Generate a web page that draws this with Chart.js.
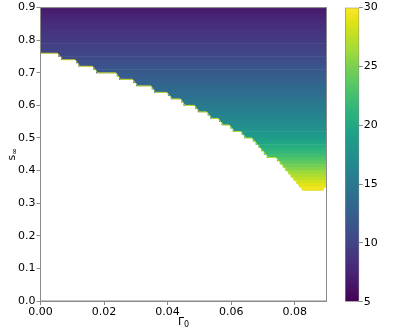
<!DOCTYPE html>
<html><head><meta charset="utf-8">
<script src="https://cdn.jsdelivr.net/npm/chart.js@4"></script>
<style>
html,body{margin:0;padding:0;background:#fff;}
#wrap{position:relative;width:407px;height:336px;overflow:hidden;}
#main{position:absolute;left:0;top:0;}
#cb{position:absolute;left:330px;top:0;}
</style>
</head><body>
<div id="wrap"><canvas id="main" width="407" height="336"></canvas><canvas id="cb" width="77" height="336"></canvas></div>
<script>
// ---- data ----
const gammaTicks = [0, 0.02, 0.04, 0.06, 0.08];
const sTicks = [0, 0.1, 0.2, 0.3, 0.4, 0.5, 0.6, 0.7, 0.8, 0.9];
const cbTicks = [5, 10, 15, 20, 25, 30];
const cbMin = 5, cbMax = 30;

// rows of s (band centres), top to bottom
const rowS = [0.895,0.885,0.875,0.865,0.855,0.845,0.835,0.825,0.815,0.805,
  0.795,0.785,0.775,0.765,0.755,0.745,0.735,0.725,0.715,0.705,
  0.695,0.685,0.675,0.665,0.655,0.645,0.635,0.625,0.615,0.605,
  0.595,0.585,0.575,0.565,0.555,0.545,0.535,0.525,0.515,0.505,
  0.495,0.485,0.475,0.465,0.455,0.445,0.435,0.425,0.415,0.405,
  0.395,0.385,0.375,0.365,0.355,0.345];
// colour value of each row
const rowValue = [6.8,7.1,7.4,7.7,8.0,8.3,8.5,8.8,9.0,9.2,
  9.4,9.6,9.8,10.0,10.3,10.6,10.9,11.2,11.5,11.8,
  12.1,12.4,12.7,13.0,13.4,13.7,14.0,14.3,14.7,15.0,
  15.3,15.6,15.9,16.2,16.5,16.9,17.3,17.7,18.2,18.7,
  19.3,19.8,20.4,21.0,21.7,22.4,23.1,23.8,24.6,25.3,
  26.1,26.8,27.5,28.2,28.9,29.6];
// left edge (Γ0) of the filled region in each row
const rowGammaMin = [0,0,0,0,0,0,0,0,0,0,
  0,0,0,0,0.0057,0.0066,0.0113,0.0120,0.0167,0.0176,
  0.0241,0.0248,0.0293,0.0302,0.0351,0.0358,0.0402,0.0411,0.0444,0.0451,
  0.0488,0.0496,0.0527,0.0535,0.0563,0.0571,0.0598,0.0606,0.0634,0.0642,
  0.0669,0.0678,0.0687,0.0695,0.0704,0.0713,0.0745,0.0754,0.0763,0.0771,
  0.0780,0.0788,0.0797,0.0806,0.0814,0.0823];
// right edge (Γ0) of the filled region in each row
const rowGammaMax = [0.09,0.09,0.09,0.09,0.09,0.09,0.09,0.09,0.09,0.09,
  0.09,0.09,0.09,0.09,0.09,0.09,0.09,0.09,0.09,0.09,
  0.09,0.09,0.09,0.09,0.09,0.09,0.09,0.09,0.09,0.09,
  0.09,0.09,0.09,0.09,0.09,0.09,0.09,0.09,0.09,0.09,
  0.09,0.09,0.09,0.09,0.09,0.09,0.09,0.09,0.09,0.09,
  0.09,0.09,0.09,0.09,0.09,0.089];
// lower boundary of the region (thin yellow edge)
const boundaryGamma = [0,0.0053,0.0070,0.0109,0.0124,0.0163,0.0180,0.0237,0.0252,0.0289,
  0.0306,0.0347,0.0362,0.0397,0.0415,0.0440,0.0455,0.0484,0.0500,0.0523,
  0.0539,0.0559,0.0575,0.0594,0.0610,0.0630,0.0646,0.0665,0.0717,0.0741,
  0.0827,0.0885,0.0900];
const boundaryS = [0.76,0.76,0.74,0.74,0.72,0.72,0.70,0.70,0.68,0.68,
  0.66,0.66,0.64,0.64,0.62,0.62,0.60,0.60,0.58,0.58,
  0.56,0.56,0.54,0.54,0.52,0.52,0.50,0.50,0.44,0.44,
  0.34,0.34,0.355];

// ---- viridis colormap ----
const VIRIDIS = [
  [0.00,'#440154'],[0.05,'#471365'],[0.10,'#482475'],[0.15,'#46337f'],[0.20,'#414487'],
  [0.25,'#3b528b'],[0.30,'#355f8d'],[0.35,'#2f6c8e'],[0.40,'#2a788e'],[0.45,'#25848e'],
  [0.50,'#21918c'],[0.55,'#1e9b8a'],[0.60,'#22a884'],[0.65,'#2fb47c'],[0.70,'#44bf70'],
  [0.75,'#5ec962'],[0.80,'#7ad151'],[0.85,'#9fda3a'],[0.90,'#bddf26'],[0.95,'#dfe318'],[1.00,'#fde725']
];
function hex2rgb(h){return [parseInt(h.slice(1,3),16),parseInt(h.slice(3,5),16),parseInt(h.slice(5,7),16)];}
function colorFor(v){
  let t = (v - cbMin) / (cbMax - cbMin);
  t = Math.max(0, Math.min(1, t));
  for (let i = 1; i < VIRIDIS.length; i++) {
    if (t <= VIRIDIS[i][0]) {
      const [t0,c0] = VIRIDIS[i-1], [t1,c1] = VIRIDIS[i];
      const f = (t - t0) / (t1 - t0);
      const a = hex2rgb(c0), b = hex2rgb(c1);
      return 'rgb(' + a.map((x,k)=>Math.round(x + (b[k]-x)*f)).join(',') + ')';
    }
  }
  return VIRIDIS[VIRIDIS.length-1][1];
}

const FONT = 'DejaVu Sans';
const AXIS_GREY = '#8a8a8a';

const framePlugin = {
  id: 'frame',
  afterDraw(chart){
    const {ctx, chartArea:a} = chart;
    ctx.save();
    ctx.strokeStyle = AXIS_GREY; ctx.lineWidth = 1;
    ctx.strokeRect(a.left, a.top, a.right - a.left, a.bottom - a.top);
    ctx.restore();
  }
};

function drawSub(ctx, main, sub, size){
  ctx.font = size + 'px "' + FONT + '"';
  const w1 = ctx.measureText(main).width;
  ctx.font = Math.round(size*0.7) + 'px "' + FONT + '"';
  const w2 = ctx.measureText(sub).width;
  const total = w1 + w2;
  ctx.font = size + 'px "' + FONT + '"';
  ctx.fillText(main, -total/2, 0);
  ctx.font = Math.round(size*0.7) + 'px "' + FONT + '"';
  ctx.fillText(sub, -total/2 + w1, size*0.28);
}

const titlesPlugin = {
  id: 'axisTitles',
  afterDraw(chart){
    const {ctx, chartArea:a} = chart;
    ctx.save();
    ctx.fillStyle = '#000';
    ctx.textAlign = 'left';
    ctx.textBaseline = 'middle';
    ctx.save();
    ctx.translate((a.left + a.right)/2, a.bottom + 21);
    drawSub(ctx, 'Γ', '0', 11);
    ctx.restore();
    ctx.save();
    ctx.translate(12, (a.top + a.bottom)/2);
    ctx.rotate(-Math.PI/2);
    drawSub(ctx, 's', '∞', 11);
    ctx.restore();
    ctx.restore();
  }
};

const tickFont = {family: FONT, size: 11};

new Chart(document.getElementById('main'), {
  type: 'bar',
  data: {
    datasets: [
      {
        type: 'bar',
        indexAxis: 'y',
        data: rowS.map((s, i) => ({y: s, x: [rowGammaMin[i], rowGammaMax[i]]})),
        backgroundColor: rowValue.map(colorFor),
        borderWidth: 0,
        barPercentage: 1,
        categoryPercentage: 1,
        order: 2
      },
      {
        type: 'scatter',
        indexAxis: 'x',
        data: boundaryGamma.map((g, i) => ({x: g, y: boundaryS[i]})),
        showLine: true,
        borderColor: '#d6e21b',
        borderWidth: 0.9,
        pointRadius: 0,
        tension: 0,
        order: 1
      }
    ]
  },
  options: {
    indexAxis: 'y',
    responsive: false,
    animation: false,
    devicePixelRatio: 1,
    layout: {padding: {left: 0, top: 6, right: 80.5, bottom: 0}},
    plugins: {legend: {display: false}, tooltip: {enabled: false}},
    scales: {
      x: {
        type: 'linear', min: 0, max: 0.09, offset: false,
        afterBuildTicks(s){ s.ticks = gammaTicks.map(v => ({value: v})); },
        afterFit(s){ s.height = 35; },
        ticks: {font: tickFont, color: '#000', padding: 1, maxRotation: 0, autoSkip: false,
          callback: v => Number(v).toFixed(2)},
        grid: {display: true, drawOnChartArea: false, drawTicks: true, tickLength: 4, color: AXIS_GREY, offset: false},
        border: {display: true, color: AXIS_GREY}
      },
      y: {
        type: 'linear', min: 0, max: 0.9, offset: false,
        afterBuildTicks(s){ s.ticks = sTicks.map(v => ({value: v})); },
        afterFit(s){ s.width = 40.5; },
        ticks: {font: tickFont, color: '#000', padding: 1, autoSkip: false,
          callback: v => Number(v).toFixed(1)},
        grid: {display: true, drawOnChartArea: false, drawTicks: true, tickLength: 4, color: AXIS_GREY, offset: false},
        border: {display: true, color: AXIS_GREY}
      }
    }
  },
  plugins: [framePlugin, titlesPlugin]
});

new Chart(document.getElementById('cb'), {
  type: 'bar',
  data: {
    labels: [''],
    datasets: [{
      data: [[cbMin, cbMax]],
      backgroundColor: (c) => {
        const ch = c.chart;
        if (!ch.chartArea) return '#888';
        const ys = ch.scales.y;
        const g = ch.ctx.createLinearGradient(0, ys.getPixelForValue(cbMin), 0, ys.getPixelForValue(cbMax));
        VIRIDIS.forEach(([t, col]) => g.addColorStop(t, col));
        return g;
      },
      borderColor: AXIS_GREY,
      borderWidth: 1,
      borderSkipped: false,
      barPercentage: 1,
      categoryPercentage: 1
    }]
  },
  options: {
    responsive: false,
    animation: false,
    devicePixelRatio: 1,
    layout: {padding: {left: 15, top: 6, right: 0, bottom: 34.3}},
    plugins: {legend: {display: false}, tooltip: {enabled: false}},
    scales: {
      x: {display: false},
      y: {
        position: 'right', min: cbMin, max: cbMax,
        afterBuildTicks(s){ s.ticks = cbTicks.map(v => ({value: v})); },
        afterFit(s){ s.width = 47.7; },
        ticks: {font: tickFont, color: '#000', padding: 1, autoSkip: false},
        grid: {display: true, drawOnChartArea: false, drawTicks: true, tickLength: 3.5, color: AXIS_GREY},
        border: {display: false}
      }
    }
  }
});
</script>
</body></html>
